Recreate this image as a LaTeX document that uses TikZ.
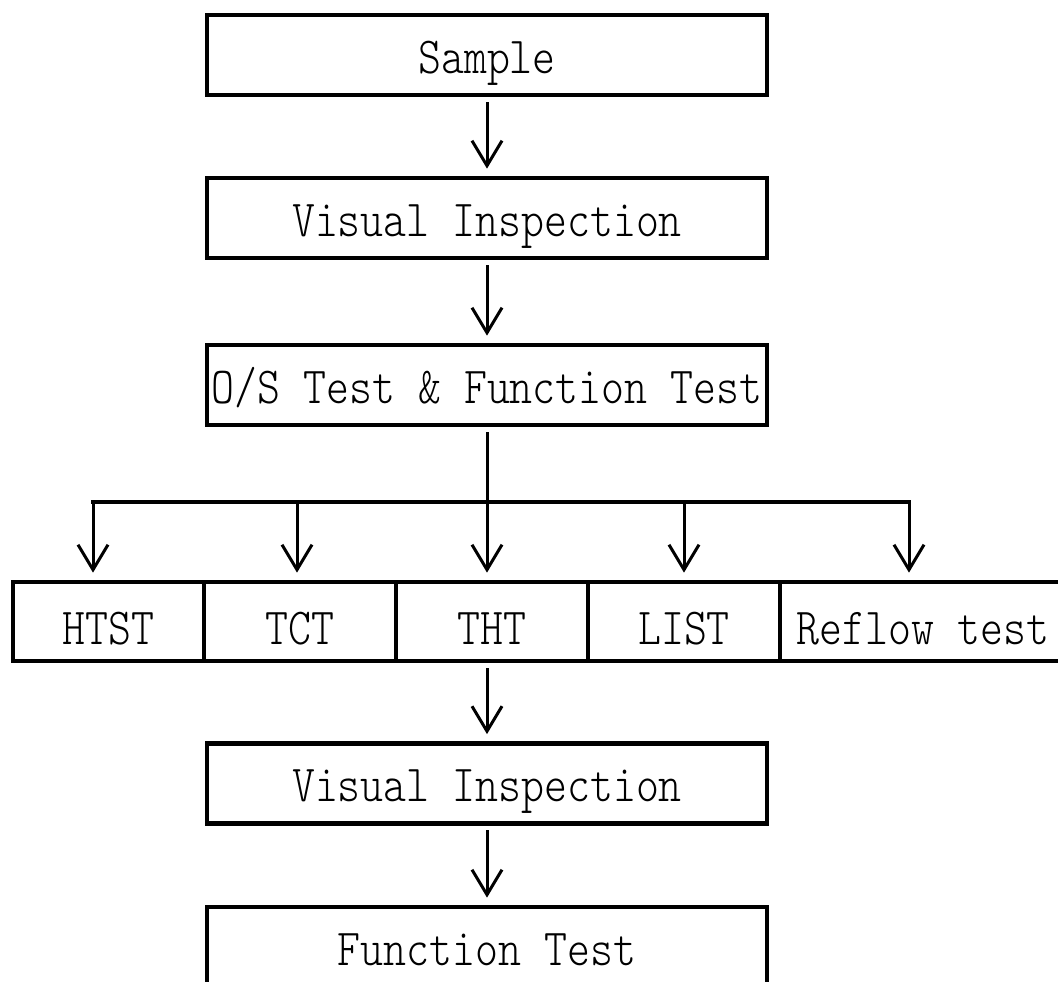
\documentclass[tikz,border=0pt]{standalone}
\usepackage{fontspec}
\setmonofont{lmmonolt10-regular.otf}[FakeStretch=0.84]
\usetikzlibrary{arrows.meta}

\newlength{\du}
\setlength{\du}{0.5pt}
\newcommand{\labelfont}{\ttfamily\fontsize{26}{30}\selectfont}

\tikzset{
  flowbox/.style={draw, line width=2.4pt, inner sep=0pt, minimum width=560\du, minimum height=80\du,
    text height=18.4pt, text depth=0pt, font=\labelfont},
  cellbox/.style={draw, line width=2.4pt, inner sep=0pt, minimum height=79\du,
    text height=23pt, text depth=0pt, font=\labelfont},
  flowarrow/.style={line width=1.5pt, line cap=rect, -{Straight Barb[length=12.5pt,width=15pt]}, shorten >=3.5pt},
}

\begin{document}
\begin{tikzpicture}
\pgftransformyscale{-1.000000}
\useasboundingbox (0\du,0\du) rectangle (1058\du,981\du);
% main column
\node[flowbox] (sample) at (487\du,55\du) {Sample};
\node[flowbox] (inspect) at (487\du,218\du) {Visual Inspection};
\node[flowbox] (ostest) at (487\du,385\du) {O/S Test \& Function Test};
% reliability tests, side by side
\node[cellbox, minimum width=191\du] (htst) at (108.5\du,621.5\du) {HTST};
\node[cellbox, minimum width=192\du] (tct) at (300\du,621.5\du) {TCT};
\node[cellbox, minimum width=192\du] (tht) at (492\du,621.5\du) {THT};
\node[cellbox, minimum width=192\du] (list) at (684\du,621.5\du) {LIST};
\node[cellbox, minimum width=286\du] (reflow) at (923\du,621.5\du) {Reflow test};
% after the tests
\node[flowbox] (reinspect) at (487\du,783.5\du) {Visual Inspection};
\node[flowbox] (functest) at (487\du,947\du) {Function Test};
% branch points on the bar
\coordinate (b1) at (93\du,502\du);
\coordinate (b2) at (297\du,502\du);
\coordinate (b4) at (684\du,502\du);
\coordinate (b5) at (909\du,502\du);
\draw[flowarrow, shorten <=3pt] (sample) -- (inspect);
\draw[flowarrow, shorten <=3pt] (inspect) -- (ostest);
\draw[flowarrow, shorten <=3pt] (ostest.south) -- (ostest.south |- tht.north);
\draw[line width=2pt, line cap=rect] (b1) -- (b5);
\draw[flowarrow] (b1) -- (b1 |- htst.north);
\draw[flowarrow] (b2) -- (b2 |- tct.north);
\draw[flowarrow] (b4) -- (b4 |- list.north);
\draw[flowarrow] (b5) -- (b5 |- reflow.north);
\draw[flowarrow, shorten <=3pt] (tht.south -| reinspect.north) -- (reinspect.north);
\draw[flowarrow, shorten <=3pt] (reinspect) -- (functest);
\end{tikzpicture}
\end{document}
